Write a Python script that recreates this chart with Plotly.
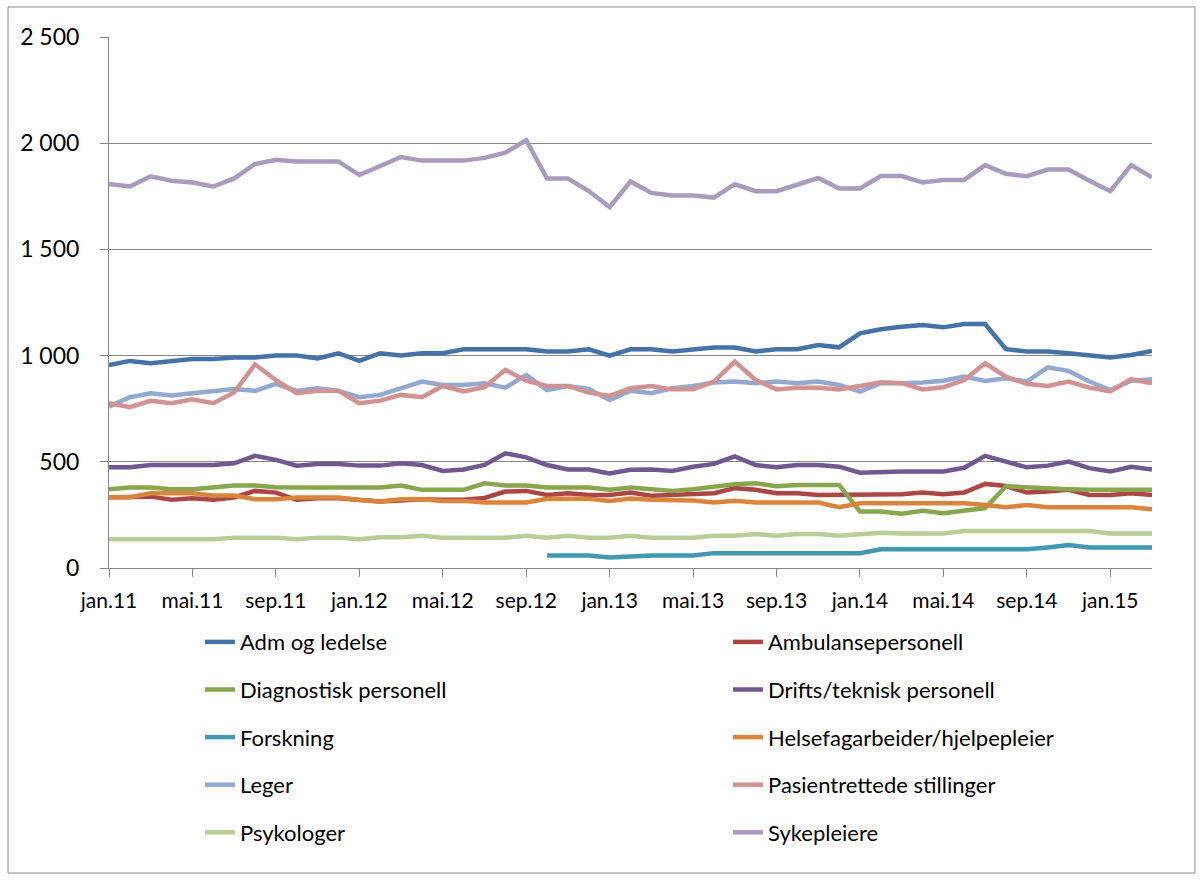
import plotly.graph_objects as go

month_names = ["jan", "feb", "mar", "apr", "mai", "jun", "jul", "aug", "sep", "okt", "nov", "des"]
months = [f"{month_names[k % 12]}.{11 + k // 12}" for k in range(51)]
tick_labels = months[::4]

adm = [956, 975, 964, 975, 984, 984, 991, 991, 1000, 1000, 987, 1011, 975, 1011, 1000, 1011, 1011,
       1030, 1030, 1030, 1030, 1019, 1019, 1030, 1000, 1030, 1030, 1019, 1030, 1038, 1038, 1019,
       1030, 1030, 1050, 1039, 1105, 1124, 1136, 1144, 1133, 1149, 1149, 1030, 1019, 1019, 1011,
       1000, 991, 1003, 1022]
ambulanse = [333, 333, 336, 321, 328, 321, 332, 363, 355, 321, 328, 328, 321, 313, 318, 324, 321,
             321, 330, 360, 363, 344, 352, 344, 344, 355, 340, 344, 349, 352, 376, 368, 352, 352,
             344, 344, 344, 344, 347, 355, 347, 355, 396, 386, 355, 360, 368, 344, 344, 352, 344]
diagnostisk = [371, 379, 379, 371, 371, 379, 388, 388, 380, 379, 379, 379, 379, 379, 388, 368, 368,
               368, 399, 388, 388, 379, 379, 379, 368, 379, 371, 363, 371, 385, 394, 399, 385, 391,
               391, 391, 266, 266, 255, 269, 258, 269, 282, 385, 380, 371, 371, 368, 368, 368, 368]
drifts = [474, 474, 485, 485, 485, 485, 493, 528, 509, 482, 490, 490, 482, 482, 493, 485, 457,
          464, 485, 540, 521, 485, 464, 464, 445, 462, 464, 457, 477, 490, 525, 485, 474, 485,
          485, 477, 449, 454, 454, 454, 454, 472, 528, 501, 474, 482, 501, 470, 454, 477, 464]
forskning = [None] * 21 + [59, 59, 59, 49, 56, 59, 59, 59, 70, 70, 70, 70, 70, 70, 70, 70,
                           88, 88, 88, 88, 88, 88, 88, 88, 97, 108, 97, 97, 97, 97]
helsefag = [333, 333, 352, 352, 352, 341, 341, 324, 324, 332, 332, 332, 320, 313, 324, 324, 316,
            316, 308, 308, 308, 326, 326, 326, 316, 327, 321, 318, 318, 308, 316, 308, 308, 308,
            308, 286, 305, 305, 305, 305, 305, 305, 297, 286, 297, 286, 286, 286, 286, 286, 277]
leger = [760, 804, 823, 812, 823, 834, 843, 834, 867, 834, 846, 834, 804, 815, 846, 878, 862,
         862, 870, 849, 909, 838, 857, 843, 791, 835, 823, 846, 857, 873, 878, 870, 878, 870,
         878, 862, 831, 870, 870, 873, 882, 901, 881, 893, 878, 945, 928, 878, 838, 882, 889]
pasient = [776, 757, 787, 776, 794, 776, 826, 959, 885, 823, 834, 834, 776, 788, 815, 804, 857,
           831, 851, 933, 882, 857, 857, 826, 810, 846, 857, 841, 841, 878, 972, 885, 841, 849,
           849, 841, 857, 875, 870, 841, 851, 885, 964, 901, 867, 857, 878, 849, 831, 889, 870]
psykologer = [135, 135, 135, 135, 135, 135, 143, 143, 143, 135, 143, 143, 135, 145, 145, 152, 143,
              143, 143, 143, 152, 143, 152, 143, 143, 152, 143, 143, 143, 152, 152, 160, 152, 160,
              160, 152, 160, 166, 163, 163, 163, 174, 174, 174, 174, 174, 174, 174, 163, 163, 163]
sykepleiere = [1808, 1796, 1844, 1823, 1815, 1796, 1834, 1902, 1922, 1914, 1914, 1914, 1850, 1892,
               1935, 1918, 1918, 1918, 1931, 1955, 2014, 1834, 1834, 1775, 1699, 1820, 1766, 1754,
               1754, 1744, 1807, 1774, 1774, 1807, 1836, 1787, 1787, 1845, 1845, 1815, 1827, 1827,
               1897, 1856, 1845, 1876, 1876, 1823, 1774, 1897, 1839]

series = [
    ("Adm og ledelse", adm, "#4572A7", "legend"),
    ("Ambulansepersonell", ambulanse, "#AA4643", "legend2"),
    ("Diagnostisk personell", diagnostisk, "#89A54E", "legend"),
    ("Drifts/teknisk personell", drifts, "#71588F", "legend2"),
    ("Forskning", forskning, "#4198AF", "legend"),
    ("Helsefagarbeider/hjelpepleier", helsefag, "#DB843D", "legend2"),
    ("Leger", leger, "#93A9CF", "legend"),
    ("Pasientrettede stillinger", pasient, "#D19392", "legend2"),
    ("Psykologer", psykologer, "#B9CD96", "legend"),
    ("Sykepleiere", sykepleiere, "#A99BBD", "legend2"),
]

fig = go.Figure()
for name, vals, color, leg in series:
    fig.add_trace(go.Scatter(
        x=months, y=vals, mode="lines", name=name,
        line=dict(color=color, width=4.5),
        legend=leg, legendgroup=name,
    ))

FONT = "Lato, 'Open Sans', sans-serif"
GRID = "#868686"

fig.update_layout(
    width=1203, height=881,
    margin=dict(l=109, r=51, t=37, b=313),
    paper_bgcolor="white", plot_bgcolor="white",
    separators=", ",
    font=dict(family=FONT, size=22, color="black"),
    showlegend=True,
    legend=dict(x=0.0872, y=-0.1, xanchor="left", yanchor="top",
                tracegroupgap=16, font=dict(size=22), bgcolor="rgba(0,0,0,0)"),
    legend2=dict(x=0.5935, y=-0.1, xanchor="left", yanchor="top",
                 tracegroupgap=16, font=dict(size=22), bgcolor="rgba(0,0,0,0)"),
    shapes=[dict(type="rect", xref="paper", yref="paper",
                 x0=-0.0968, x1=1.0412, y0=-0.5744, y1=1.0565,
                 line=dict(color="#8C8C8C", width=1), fillcolor="rgba(0,0,0,0)", layer="below")],
)

fig.update_xaxes(
    type="category", range=[0, 50],
    tickmode="array", tickvals=tick_labels, ticktext=tick_labels,
    showgrid=False, showline=True, linecolor=GRID, linewidth=1,
    ticks="outside", ticklen=8, tickcolor=GRID, tickwidth=1,
    tickfont=dict(size=21), ticklabelstandoff=6, zeroline=False,
)
fig.update_yaxes(
    range=[0, 2500], dtick=500, tick0=0, tickformat=",d",
    showgrid=True, gridcolor=GRID, gridwidth=1,
    showline=True, linecolor=GRID, linewidth=1,
    ticks="outside", ticklen=8, tickcolor=GRID, tickwidth=1,
    tickfont=dict(size=23), ticklabelstandoff=16, zeroline=False,
)

fig.write_html("out.html")
